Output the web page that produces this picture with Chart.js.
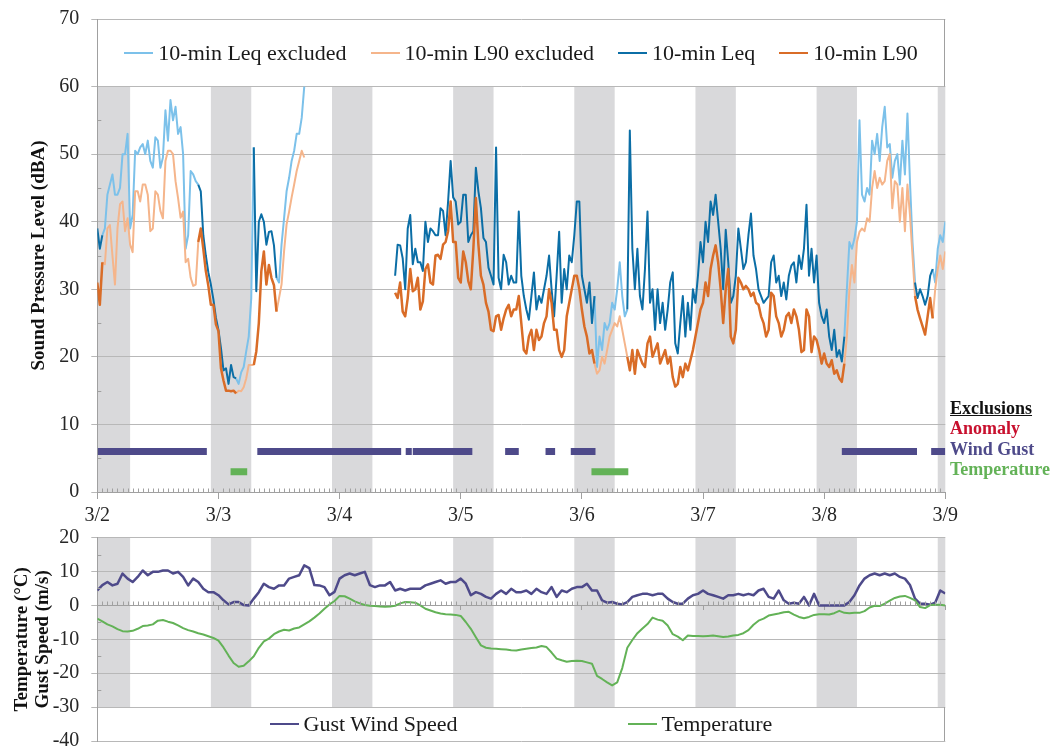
<!DOCTYPE html>
<html>
<head>
<meta charset="utf-8">
<script src="https://cdn.jsdelivr.net/npm/chart.js@4.4.1/dist/chart.umd.min.js"></script>
<style>
  body { margin: 0; background: #fff; }
  #page { position: relative; width: 1055px; height: 746px; overflow: hidden; font-family: "Liberation Serif", "Times New Roman", serif; }
  canvas { position: absolute; left: 0; }
  #spl { top: 0; }
  #met { top: 525px; }
  .legend { position: absolute; display: flex; align-items: center; justify-content: center; font-size: 22px; color: #1a1a1a; white-space: nowrap; }
  .legend .item { display: inline-flex; align-items: center; }
  .legend i { display: inline-block; width: 29px; height: 2px; margin-right: 5px; }
  #splLegend { left: 97px; top: 19px; width: 848px; height: 68px; gap: 24px; }
  #metLegend { left: 97px; top: 706px; width: 848px; height: 35px; gap: 170px; }
  #exclusions { position: absolute; left: 950px; top: 398px; font-size: 18px; font-weight: bold; line-height: 20.4px; }
  #exclusions u { color: #111; }
</style>
</head>
<body>
<div id="page">
  <canvas id="spl" width="1055" height="535"></canvas>
  <canvas id="met" width="1055" height="221"></canvas>
  <div id="splLegend" class="legend"></div>
  <div id="metLegend" class="legend"></div>
  <div id="exclusions">
    <div><u>Exclusions</u></div>
    <div style="color:#c8102e">Anomaly</div>
    <div style="color:#4e4a8a">Wind Gust</div>
    <div style="color:#63b257">Temperature</div>
  </div>
</div>
<script>
const dayLabels = ['3/2', '3/3', '3/4', '3/5', '3/6', '3/7', '3/8', '3/9'];

// sound levels every 30 min, 3/2 00:00 through 3/9 00:00 (one row per day)
const leq = [
  39, 36, 38, 39, 44, 45.5, 47, 44, 44, 45, 50, 50, 53, 39, 41, 50.5, 50, 51, 51.5, 50, 52, 49, 48, 52.5,
  52, 48, 49.5, 56.5, 52, 58, 55, 57, 53, 54, 50, 36, 38, 47.5, 47, 46, 45.5, 44.5, 38, 35, 32.5, 30.7, 28.5, 25.8,
  24, 21.3, 18, 18.3, 16, 18.8, 17, 16.8, 16, 17.7, 18.5, 20.8, 23, 28.7, 51, 29.7, 40, 41.1, 40, 36.6, 38.5, 38.6, 36.5, 31.7,
  31, 36.6, 40.5, 44.5, 46.5, 49, 50.5, 53, 53, 55.4, 60, null, null, null, null, null, null, null, null, null, null, null, null, null,
  null, null, null, null, null, null, null, null, null, null, null, null, null, null, null, null, null, null, null, null, null, null, 32, 36.6,
  36.5, 34.6, 30, 39, 41, 33.7, 36, 34, 34, 32.7, 40, 37, 39, 38.6, 38, 38, 42, 41.6, 38, 43, 49, 43.6, 43, 39.6,
  40, 44, 44, 37, 38, 38.6, 48, 44.5, 42, 37.6, 37, 33.2, 32, 30.7, 51, 31.7, 30, 35.1, 34, 30.7, 32, 31, 31, 41.5,
  32, 29, 27, 25.5, 29, 32.5, 27, 29, 28, 30, 32, 35, 30, 26, 32, 38.5, 28, 33, 30, 35, 34, 38, 43, 43,
  32, 30, 28, 31, 25, 29, 18.5, 23, 21, 25, 24, 25, 28, 27, 30, 34, 29, 26, 27, 53.5, 36, 30, 36, 29,
  27, 33, 41.5, 28, 30, 24, 30, 25, 28, 24, 27, 31, 32.5, 22, 20.5, 25, 29, 23, 28, 24, 30, 28, 32, 37,
  34, 40, 37, 43, 41, 44, 40, 36, 30, 38.8, 34, 28, 29, 32, 39, 36, 33, 34, 38, 41.2, 35, 33, 30, 29,
  28, 28.5, 29, 34, 35, 31, 32, 29, 31, 28.5, 32, 33.5, 34, 31, 35, 33, 36, 42.5, 32, 36, 31, 35, 28, 26,
  25, 27, 23, 21, 24, 20, 21, 19.3, 23, 30, 37, 36, 37.5, 40, 55, 44, 43, 45, 44, 52, 50, 53, 49, 54,
  57, 51, 51.5, 46.5, 49, 50, 45.5, 52, 47, 56, 46, 37, 31, 28.7, 30, 29, 27.7, 29, 32, 33, 31, 36, 38, 37,
  40
];

const l90 = [
  31, 27.7, 34, 33.7, 39, 39.5, 35, 30.7, 39, 42.6, 43, 38.6, 40.5, 36.6, 35.5, 44.5, 44.5, 43, 45.5, 45.5, 44, 38.6, 39, 44.5,
  44, 41.6, 40.5, 49, 50.5, 50.5, 50, 46, 43.5, 40.6, 41.5, 34, 34.5, 31.7, 30.5, 30.7, 37, 39, 36, 32.7, 30.5, 27.7, 27.7, 24.8,
  23.8, 18.3, 16.5, 15, 15, 14.9, 15, 14.6, 15, 14.9, 15.5, 16.8, 18.8, 18.8, 18.8, 20.8, 25, 32.7, 35.6, 30.7, 33.6, 31.7, 30.6, 26.7,
  28.7, 30.7, 35.6, 39.6, 41.5, 43.6, 45.5, 47.5, 49, 50.5, 49.5, null, null, null, null, null, null, null, null, null, null, null, null, null,
  null, null, null, null, null, null, null, null, null, null, null, null, null, null, null, null, null, null, null, null, null, null, 29.5, 28.7,
  31, 26.7, 26, 28.7, 33, 29.7, 30, 31.7, 27, 28.2, 33, 33.7, 31, 30.7, 35, 35.1, 34.5, 36.6, 37, 38.6, 43, 37, 37, 31.7,
  31, 35.6, 34, 31.2, 30, 36, 43.5, 36.6, 32, 30.7, 28, 26.7, 24, 23.8, 26, 26.2, 24, 25.7, 27, 27.7, 26, 27, 27, 29,
  25, 21, 20.5, 23, 24, 21, 24, 22.5, 23, 25, 26, 30, 28, 24, 24, 21, 20, 21, 26, 28, 30, 32, 32, 30,
  27, 24.5, 23, 20.5, 21, 19, 17.5, 18, 20, 19, 21, 23, 24, 25, 24.5, 26, 24, 22, 20, 18, 21, 17.5, 21, 20,
  19, 18.5, 22, 23, 20, 21, 22, 19, 20, 21, 19, 20, 17, 15.6, 16, 18.5, 17, 19, 18, 19.5, 21, 23, 25, 27,
  28, 31, 29, 33, 35, 36.5, 34, 30, 25, 30, 33, 23, 22, 24, 31.7, 31, 30, 30.5, 30, 29, 29.5, 28, 27.7, 26,
  25, 23, 24, 29.5, 29, 26, 25, 23, 24, 26, 26.5, 25, 27, 26, 24, 20.7, 21, 27, 26, 20.7, 23, 22.5, 21, 19,
  20.5, 19, 18.5, 19.5, 17.5, 18, 16.8, 16.3, 19, 23, 30, 33.6, 31, 37, 38.5, 39, 38.6, 40.5, 40, 45, 47.5, 45, 46.5, 45.5,
  46, 49, 50, 42, 46, 45.5, 40, 45, 38.6, 45.5, 41, 35, 29, 27, 25.7, 24.5, 23.3, 26, 28.7, 25.7, 30, 33, 35, 33,
  35.6
];

// weather readings every hour (one row per day)
const gust = [
  4.4, 6, 6.9, 5.9, 6.4, 9.4, 7.9, 6.9, 8.4, 10.3, 8.9, 9.9, 9.9, 10.3, 10.3, 9.4, 9.9, 8.4, 5.9, 7.9, 6.9, 4.9, 3.9, 3.9,
  3, 1.5, 0.3, 1, 1, 0.1, 0, 2, 3.9, 6.4, 5.4, 4.9, 5.9, 5.9, 7.9, 8.4, 8.9, 11.8, 11, 6, 5.9, 5.4, 3, 4,
  7.9, 8.9, 9.4, 8.9, 9.4, 9.9, 6, 5.4, 5.9, 5.9, 6.9, 4.4, 4.9, 4.4, 4.9, 4.9, 4.9, 5.9, 6.4, 6.9, 7.4, 6.4, 6.9, 6.9,
  7.9, 6.4, 3, 3.9, 3.4, 2.5, 2, 3.4, 4.4, 3.4, 4.9, 3.9, 3.9, 4.4, 3.4, 4.9, 3.9, 3.4, 5.4, 2.5, 4.4, 3.9, 4.9, 5.4,
  5.4, 6.4, 4.4, 4.4, 1.5, 0.8, 1, 0.5, 0.3, 1, 2.5, 3, 3.4, 3.4, 3, 3.4, 3.4, 2, 1, 0.5, 0.5, 2, 3, 3.4,
  4.4, 3.4, 3, 2.5, 2, 3, 3, 3.4, 3, 3.4, 3, 4.4, 4.9, 2.5, 2, 4.4, 1.5, 0.5, 0.8, 0.5, 2.5, 0, 3.4, 0,
  0, 0, 0, 0, 0, 1, 3, 5.9, 7.9, 8.9, 9.4, 8.9, 9.4, 8.9, 9.4, 8.4, 7.9, 6, 2, 0.5, 0.5, 0.2, 0.8, 4.4,
  3.5
];

const temperature = [
  -3.9, -4.7, -5.6, -6.2, -7.0, -7.6, -7.7, -7.5, -6.9, -6.1, -5.9, -5.6, -4.5, -4.3, -4.8, -5.2, -5.9, -6.7, -7.3, -7.7, -8.2, -8.6, -9.1, -9.6,
  -10.4, -12.4, -14.8, -17.0, -18.1, -17.8, -16.5, -15.0, -12.5, -10.6, -9.8, -8.5, -7.7, -7.2, -7.4, -6.8, -6.5, -5.6, -4.7, -3.6, -2.4, -1.0, 0.3, 1.3,
  2.8, 2.7, 2.0, 1.2, 0.6, 0.1, -0.1, -0.2, -0.3, -0.4, -0.3, -0.1, 0.6, 1.0, 0.9, 0.8, 0, -1.0, -1.5, -2.0, -2.4, -2.6, -2.7, -2.8,
  -3.1, -4.9, -6.9, -9.4, -11.8, -12.5, -12.7, -12.8, -12.9, -13.0, -13.2, -13.3, -13.0, -12.8, -12.6, -12.4, -12.0, -12.3, -13.9, -15.7, -16.2, -16.6, -16.4, -16.3,
  -16.4, -16.8, -17.2, -20.8, -21.7, -22.7, -23.6, -22.7, -18.5, -12.5, -10.2, -8.2, -6.8, -5.5, -3.6, -4.2, -4.5, -5.9, -8.5, -9.2, -10.3, -8.9, -9.0, -9.0,
  -9.1, -9.0, -8.9, -9.1, -9.3, -9.2, -8.9, -8.7, -8.2, -7.3, -5.7, -4.5, -3.9, -3.0, -2.7, -2.4, -2.0, -1.9, -2.7, -3.4, -3.8, -3.4, -2.8, -2.6,
  -2.6, -2.7, -2.3, -1.6, -2.2, -2.3, -2.2, -2.2, -1.7, -0.6, -0.1, -0.2, 0.5, 1.4, 2.2, 2.6, 2.8, 2.2, 1.5, -0.5, -0.8, 0.1, 0.2, 0.2,
  0
];

// hours where the sound levels are flagged as excluded (drawn in the pale colours)
const excludedHours = [[1.5, 19.5], [28, 30.5], [36, 41], [99, 104.5], [148.5, 161.5], [166, 168]];

// exclusion periods, in hours from 3/2 00:00
const gustExclusions = [[0.1, 21.7], [31.7, 60.2], [61.1, 62.3], [62.5, 74.3], [80.8, 83.5], [88.8, 90.7], [93.8, 98.7], [147.5, 162.4], [165.2, 168]];
const tempExclusions = [[26.4, 29.7], [97.9, 105.2]];

// night-time shading, 22:30 to 06:30
const nights = [[-1.5, 6.5], [22.5, 30.5], [46.5, 54.5], [70.5, 78.5], [94.5, 102.5], [118.5, 126.5], [142.5, 150.5], [166.5, 174.5]];

const FONT = '"Liberation Serif", "Times New Roman", serif';
const C = {
  leq: '#0b6ea6', leqPale: '#7cc1ea',
  l90: '#d96c27', l90Pale: '#f5b58b',
  gust: '#4e4a8a', temp: '#63b257',
  band: '#d9d9db', grid: '#b8b8b8', axis: '#a0a0a0', text: '#262626'
};

const isExcluded = t => excludedHours.some(([a, b]) => t >= a && t <= b);

// half-hourly values -> points, keeping either the flagged or the unflagged stretches
function splitSeries(values, pale) {
  return values.map((v, i) => {
    const t = i / 2;
    const keep = pale ? (isExcluded(t) || isExcluded(t - 0.5) || isExcluded(t + 0.5)) : !isExcluded(t);
    return {x: t, y: keep ? v : null};
  });
}

function spanPoints(spans, level) {
  const pts = [];
  spans.forEach(([a, b]) => pts.push({x: a, y: level}, {x: b, y: level}, {x: b, y: null}));
  return pts;
}

const hourly = values => values.map((v, h) => ({x: h, y: v}));

// shading, minor ticks and the right edge of the legend box
const panelDecor = {
  id: 'panelDecor',
  beforeDraw(chart, args, o) {
    const {ctx, chartArea: a, scales: {x, y}} = chart;
    ctx.save();
    ctx.fillStyle = C.band;
    const yt = y.getPixelForValue(o.bandTop), yb = y.getPixelForValue(o.bandBottom);
    nights.forEach(([s, e]) => {
      const x0 = Math.max(a.left, x.getPixelForValue(s));
      const x1 = Math.min(a.right, x.getPixelForValue(e));
      if (x1 > x0) ctx.fillRect(x0, yt, x1 - x0, yb - yt);
    });
    ctx.restore();
  },
  afterDraw(chart, args, o) {
    const {ctx, chartArea: a, scales: {x, y}} = chart;
    ctx.save();
    ctx.strokeStyle = C.axis;
    ctx.lineWidth = 1;
    ctx.beginPath();
    const y0 = Math.round(y.getPixelForValue(0)) + 0.5;
    for (let h = 0; h <= 168; h += o.minorStep) {
      if (h % 24 === 0) continue;
      const px = Math.round(x.getPixelForValue(h)) + 0.5;
      ctx.moveTo(px, y0); ctx.lineTo(px, y0 - 4);
    }
    o.minorY.forEach(v => {
      const py = Math.round(y.getPixelForValue(v)) + 0.5;
      ctx.moveTo(a.left, py); ctx.lineTo(a.left + 4, py);
    });
    const rx = Math.round(a.right) - 0.5;
    ctx.moveTo(rx, y.getPixelForValue(o.boxTop));
    ctx.lineTo(rx, y.getPixelForValue(o.boxBottom));
    ctx.stroke();
    ctx.restore();
  }
};

const tickFont = {family: FONT, size: 20};
const titleFont = {family: FONT, size: 19, weight: 'bold', lineHeight: 1.14};

// fixed axis sizes so both plot areas line up
const fixWidth = w => s => { s.width = w; s.paddingTop = 0; s.paddingBottom = 0; };
const fixHeight = hgt => s => { s.height = hgt; s.paddingLeft = 0; s.paddingRight = 0; };

const splChart = new Chart(document.getElementById('spl'), {
  type: 'line',
  data: {
    datasets: [
      {label: '10-min Leq excluded', data: splitSeries(leq, true), borderColor: C.leqPale, borderWidth: 2, order: 4},
      {label: '10-min L90 excluded', data: splitSeries(l90, true), borderColor: C.l90Pale, borderWidth: 2, order: 3},
      {label: '10-min Leq', data: splitSeries(leq, false), borderColor: C.leq, borderWidth: 2, order: 2},
      {label: '10-min L90', data: splitSeries(l90, false), borderColor: C.l90, borderWidth: 2.5, order: 1},
      {label: 'Wind Gust', data: spanPoints(gustExclusions, 6), borderColor: C.gust, borderWidth: 7, borderCapStyle: 'butt', order: 0, noLegend: true},
      {label: 'Temperature', data: spanPoints(tempExclusions, 3), borderColor: C.temp, borderWidth: 7, borderCapStyle: 'butt', order: 0, noLegend: true}
    ]
  },
  options: {
    responsive: false,
    animation: false,
    devicePixelRatio: 1,
    layout: {autoPadding: false, padding: {left: 0, top: 19, right: 109.7, bottom: 0}},
    elements: {point: {radius: 0}, line: {tension: 0, borderJoinStyle: 'round', spanGaps: false}},
    plugins: {
      legend: {display: false},
      tooltip: {enabled: false},
      panelDecor: {bandTop: 60, bandBottom: 0, boxTop: 70, boxBottom: 60, minorStep: 1, minorY: [5, 15, 25, 35, 45, 55]}
    },
    scales: {
      x: {
        type: 'linear', min: 0, max: 168,
        ticks: {stepSize: 24, autoSkip: false, maxRotation: 0, padding: 5, font: tickFont, color: C.text,
                callback: v => dayLabels[v / 24]},
        grid: {drawOnChartArea: false, drawTicks: true, tickLength: 7, color: C.axis},
        border: {color: C.axis},
        afterFit: fixHeight(43)
      },
      y: {
        min: 0, max: 70,
        ticks: {stepSize: 10, padding: 12, font: tickFont, color: C.text},
        grid: {color: C.grid, tickLength: 6},
        border: {color: C.axis},
        title: {display: true, text: 'Sound Pressure Level (dBA)', font: titleFont, color: '#111', padding: {top: 28, bottom: 0}},
        afterFit: fixWidth(97.3)
      }
    }
  },
  plugins: [panelDecor]
});

const metChart = new Chart(document.getElementById('met'), {
  type: 'line',
  data: {
    datasets: [
      {label: 'Gust Wind Speed', data: hourly(gust), borderColor: C.gust, borderWidth: 2.5, order: 1},
      {label: 'Temperature', data: hourly(temperature), borderColor: C.temp, borderWidth: 2, order: 0}
    ]
  },
  options: {
    responsive: false,
    animation: false,
    devicePixelRatio: 1,
    layout: {autoPadding: false, padding: {left: 0, top: 12.6, right: 109.7, bottom: 5}},
    elements: {point: {radius: 0}, line: {tension: 0, borderJoinStyle: 'round'}},
    plugins: {
      legend: {display: false},
      tooltip: {enabled: false},
      panelDecor: {bandTop: 20, bandBottom: -30, boxTop: -30, boxBottom: -40, minorStep: 1, minorY: [15, 5, -5, -15, -25]}
    },
    scales: {
      x: {
        type: 'linear', min: 0, max: 168, position: {y: 0},
        ticks: {stepSize: 24, display: false},
        grid: {drawOnChartArea: false, drawTicks: true, tickLength: 4, color: C.axis},
        border: {color: C.axis},
        afterFit: fixHeight(0)
      },
      y: {
        min: -40, max: 20,
        ticks: {stepSize: 10, padding: 12, font: tickFont, color: C.text},
        grid: {color: C.grid, tickLength: 6},
        border: {color: C.axis},
        title: {display: true, text: ['Temperature (°C)', 'Gust Speed (m/s)'], font: titleFont, color: '#111', padding: {top: 11, bottom: 0}},
        afterFit: fixWidth(97.3)
      }
    }
  },
  plugins: [panelDecor]
});

// legends are built from the chart datasets
function buildLegend(chart, el) {
  chart.data.datasets.filter(d => !d.noLegend).forEach(d => {
    const item = document.createElement('span');
    item.className = 'item';
    const swatch = document.createElement('i');
    swatch.style.background = d.borderColor;
    item.append(swatch, document.createTextNode(d.label));
    el.append(item);
  });
}
buildLegend(splChart, document.getElementById('splLegend'));
buildLegend(metChart, document.getElementById('metLegend'));
</script>
</body>
</html>
